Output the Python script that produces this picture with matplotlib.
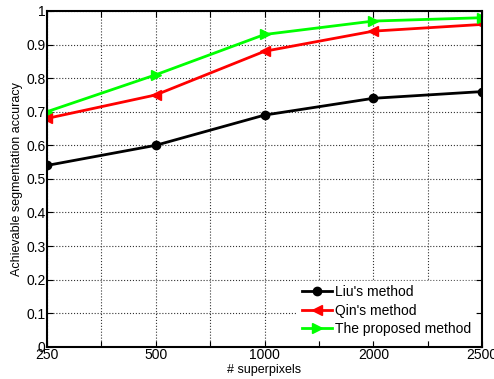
import numpy as np
import matplotlib.pyplot as plt

plt.rcParams['font.family'] = ['Liberation Sans', 'DejaVu Sans']

superpixels = ['250', '500', '1000', '2000', '2500']
liu = [0.54, 0.60, 0.69, 0.74, 0.76]
qin = [0.68, 0.75, 0.88, 0.94, 0.96]
proposed = [0.70, 0.81, 0.93, 0.97, 0.98]

x = np.arange(len(superpixels))

fig = plt.figure(figsize=(4.94, 3.79), dpi=100)
ax = fig.add_axes([0.095, 0.085, 0.881, 0.886])

ax.plot(x, liu, color='black', marker='o', lw=2, ms=6, label="Liu's method")
ax.plot(x, qin, color='red', marker='<', lw=2, ms=7, label="Qin's method")
ax.plot(x, proposed, color='#00ff00', marker='>', lw=2, ms=7, label='The proposed method')

ax.set_xlim(0, 4)
ax.set_ylim(0, 1)
ax.set_xticks(np.arange(0, 4.01, 0.5))
labels = []
for s in superpixels:
    labels += [s, '']
ax.set_xticklabels(labels[:-1])
ax.set_yticks(np.arange(0, 1.01, 0.1))
ax.set_yticklabels(['0', '0.1', '0.2', '0.3', '0.4', '0.5', '0.6', '0.7', '0.8', '0.9', '1'])
ax.tick_params(direction='in', length=4, labelsize=10, pad=1, top=True, right=True)
ax.grid(True, color='#333333', linestyle=':', lw=0.8)
for s in ax.spines.values():
    s.set_linewidth(1.5)

ax.set_xlabel('# superpixels', fontsize=9, labelpad=1)
ax.set_ylabel('Achievable segmentation accuracy', fontsize=9, labelpad=2)

leg = ax.legend(loc='lower right', fontsize=10, frameon=True, fancybox=False,
                handlelength=2.2, handletextpad=0.2, borderpad=0.3, labelspacing=0.3)
leg.get_frame().set_edgecolor('white')
leg.get_frame().set_alpha(1)

fig.savefig('out.png', dpi=100)
